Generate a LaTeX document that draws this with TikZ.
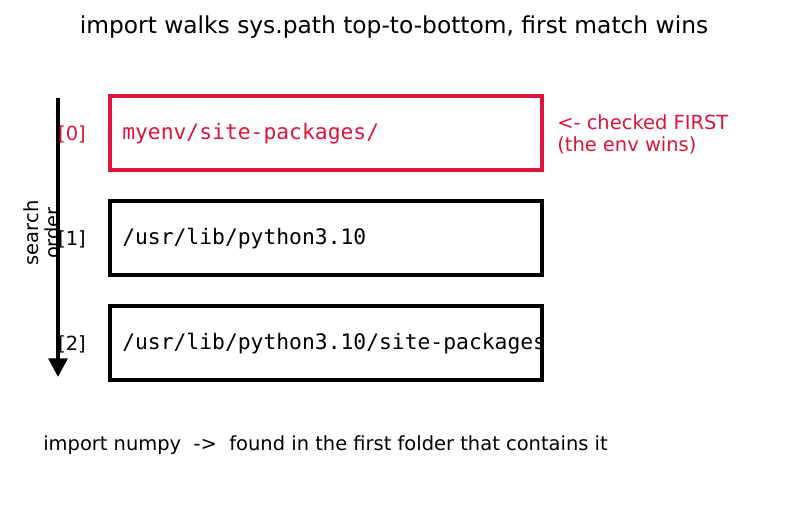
\documentclass[tikz,border=0pt]{standalone}
\usepackage{fontspec}
\setmainfont{DejaVu Sans}
\newfontfamily\monof{DejaVu Sans Mono}
\usetikzlibrary{arrows.meta}
\definecolor{crim}{RGB}{220,20,60}
\begin{document}
\begin{tikzpicture}[x={(0.75pt,0)},y={(0,-0.75pt)},
  pathbox/.style={draw,line width=3pt},
  pathtxt/.style={anchor=west,inner sep=0pt,font=\monof\fontsize{16}{19}\selectfont},
  idx/.style={inner sep=0pt,font=\fontsize{14.6}{17}\selectfont},
  plain/.style={inner sep=0pt,font=\fontsize{14.6}{17}\selectfont}]
\useasboundingbox (0,0) rectangle (787,510);
\node[inner sep=0pt,font=\fontsize{17.5}{20}\selectfont] (title) at (394,27) {import walks sys.path top-to-bottom, first match wins};
% texts first
\node[pathtxt,text=crim] (t0) at (122,134) {myenv/site-packages/};
\node[pathtxt] (t1) at (122,239) {/usr/lib/python3.10};
\node[pathtxt] (t2) at (122,344) {/usr/lib/python3.10/site-packages};
% boxes
\draw[pathbox,draw=crim] (110,96) rectangle (542,170);
\draw[pathbox] (110,201) rectangle (542,275);
\draw[pathbox] (110,306) rectangle (542,380);
% arrow
\coordinate (as) at (58,98);
\coordinate (ae) at (58,377);
\draw[line width=3pt,-{Triangle[length=14pt,width=14pt]}] (as) -- (ae);
\node[idx,text=crim] (i0) at (72,134) {[0]};
\node[idx] (i1) at (72,239) {[1]};
\node[idx] (i2) at (72,344) {[2]};
\node[plain,rotate=90,align=center,font=\fontsize{14.6}{15.5}\selectfont] (so) at (42,233) {search\\order};
\node[plain,text=crim,anchor=north west,align=left,font=\fontsize{14.6}{16.5}\selectfont] (note) at (557,114) {<- checked FIRST\\(the env wins)};
\node[plain,anchor=west] (bot) at (43,445) {import numpy\ \ ->\ \ found in the first folder that contains it};
\end{tikzpicture}
\end{document}
